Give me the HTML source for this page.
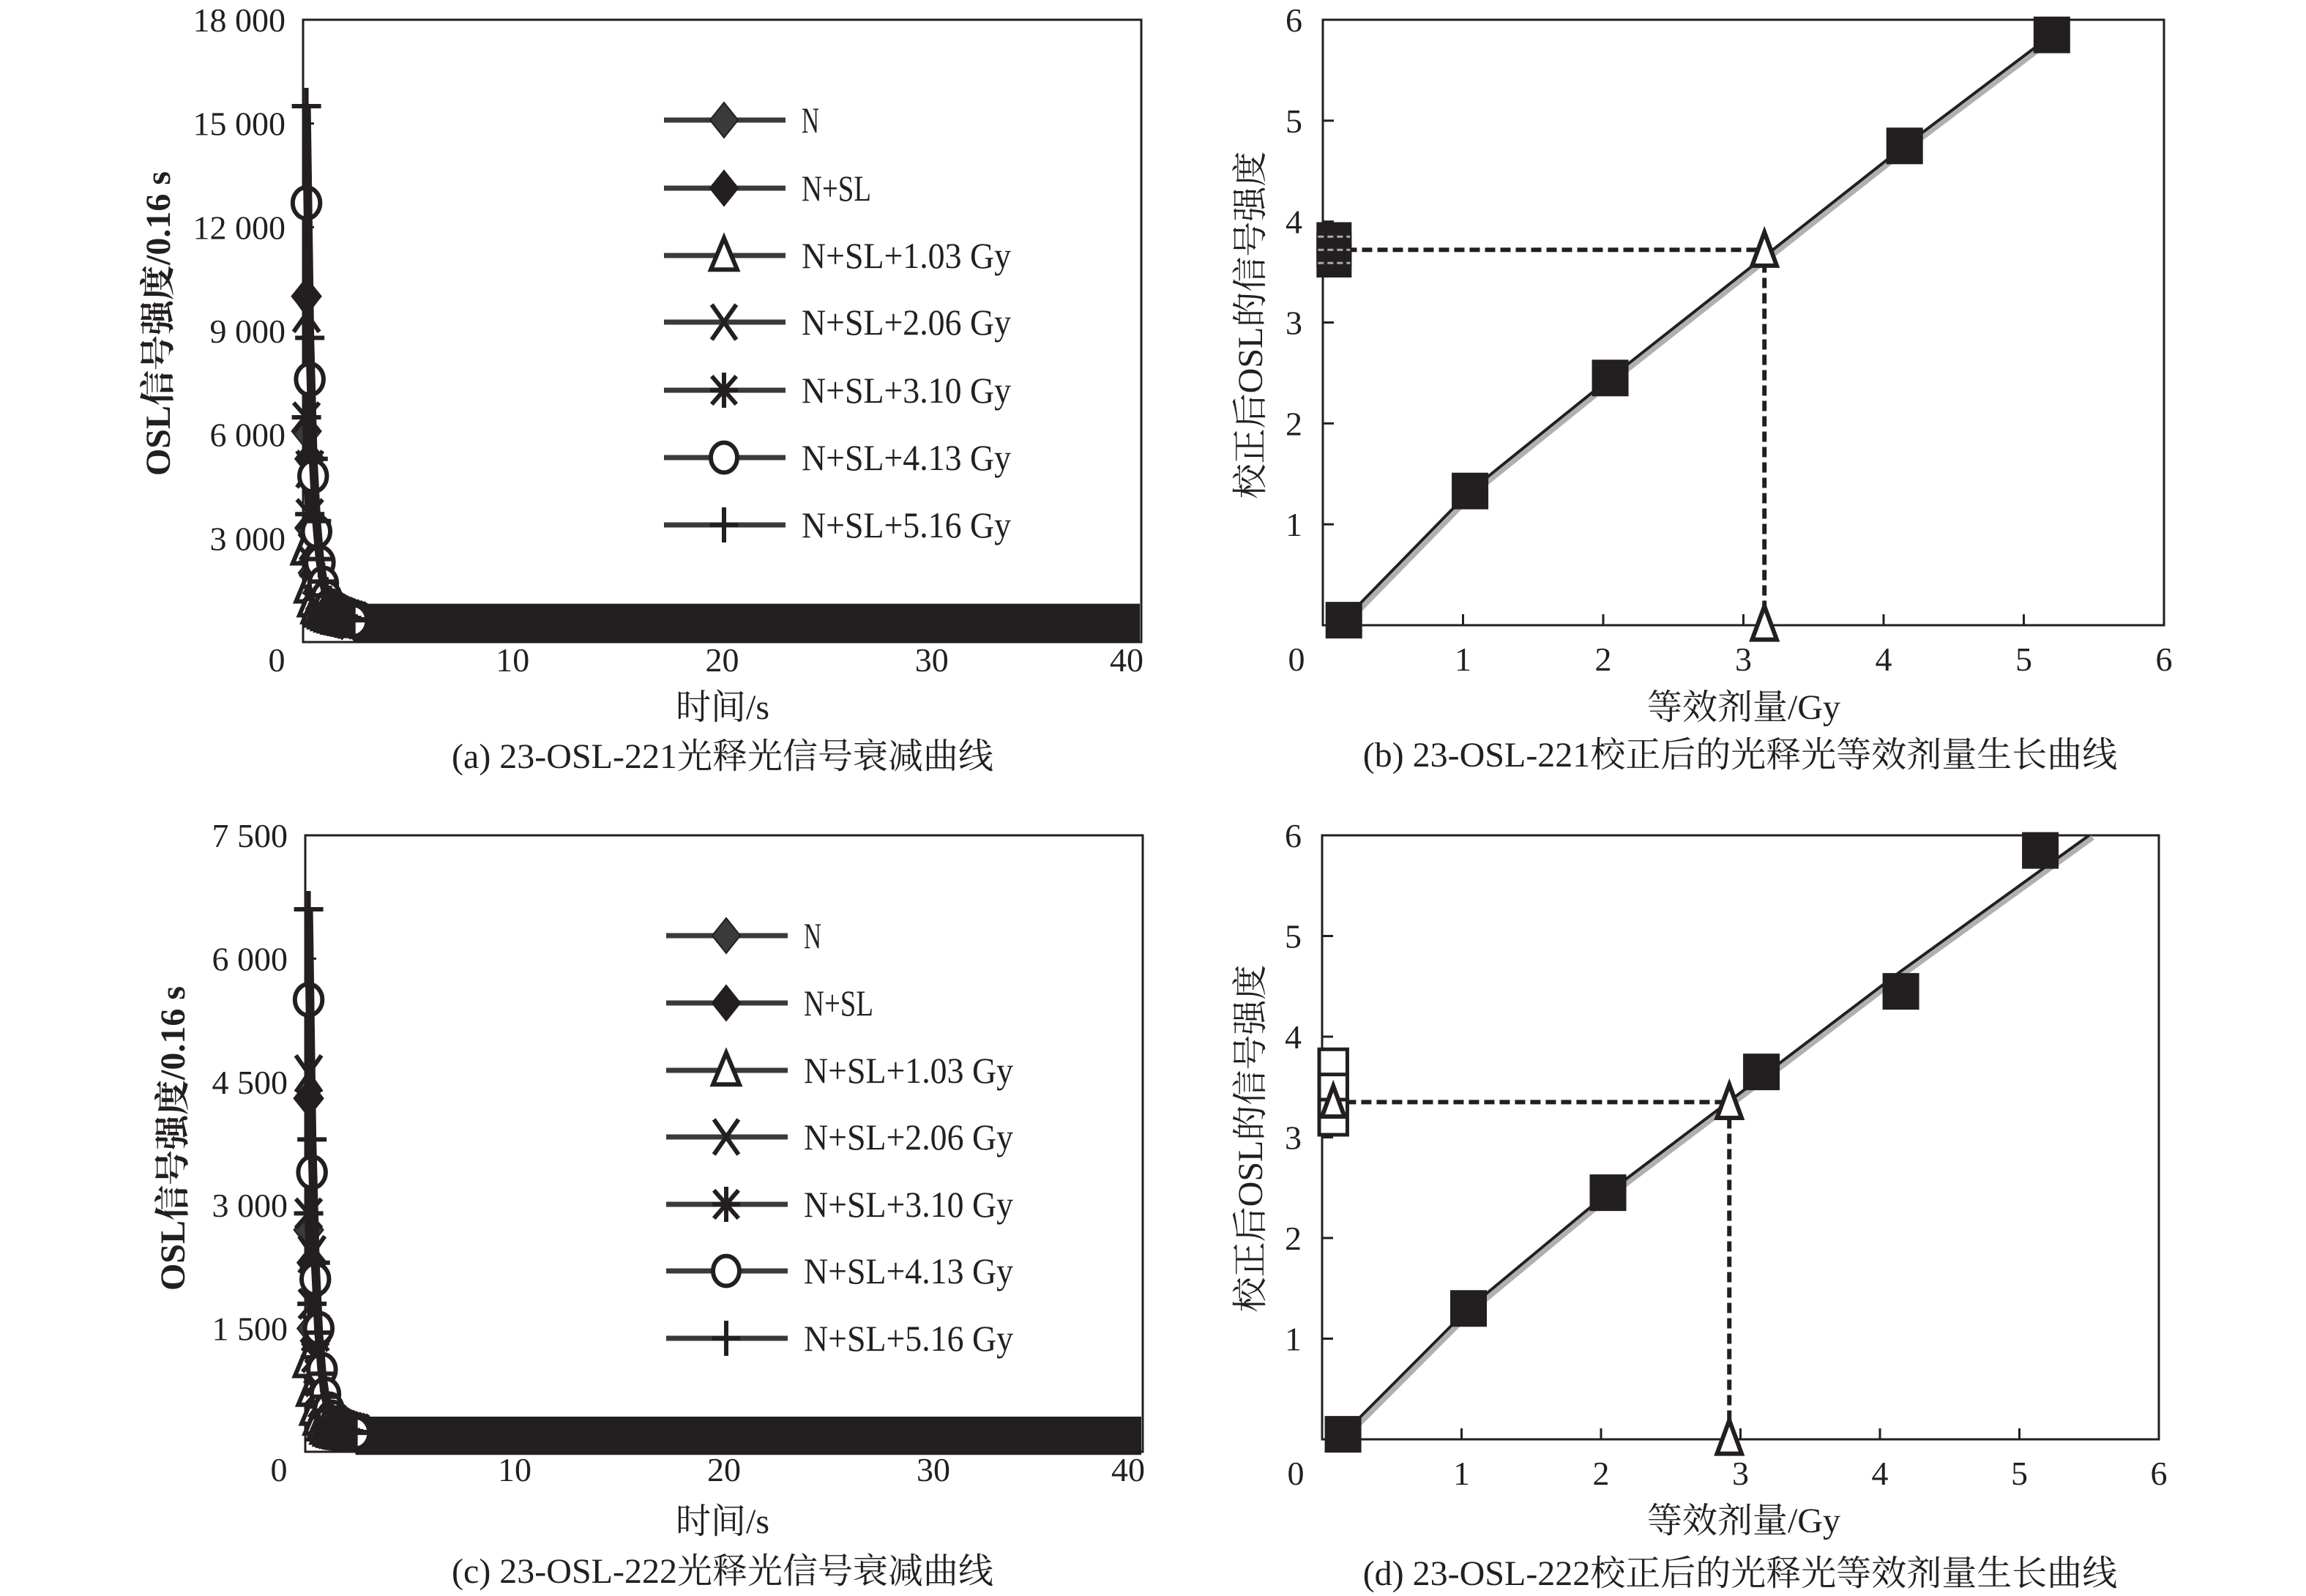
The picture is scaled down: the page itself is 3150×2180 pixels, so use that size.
<!DOCTYPE html>
<html><head><meta charset="utf-8"><style>
html,body{margin:0;padding:0;background:#fff}
svg{display:block}
text{font-family:"Liberation Serif","Noto Serif CJK SC",serif;fill:#231f20}
</style></head><body>
<svg id="fig" width="3150" height="2180" viewBox="0 0 3150 2180" xmlns="http://www.w3.org/2000/svg"></svg>
<script>
// ---------- Data: decay curves (panel a) ----------
const tEarly = [0.16,0.32,0.48,0.64,0.8,0.96,1.12,1.28,1.44,1.6,1.76,1.92,2.08,2.24,2.4];
const seriesNames = ["N","N+SL","N+SL+1.03 Gy","N+SL+2.06 Gy","N+SL+3.10 Gy","N+SL+4.13 Gy","N+SL+5.16 Gy"];
const seriesMarkers = ["diamondGrey","diamond","triangle","x","star","circle","plus"];
const aN    = [6100,3300,2000,1400,1150,1000,900,850,800,760,720,690,660,630,600];
const aNSL  = [10000,5300,3100,2000,1500,1200,1050,950,870,810,760,720,680,650,620];
const aD103 = [2700,1600,1200,1000,900,850,800,760,730,700,680,660,640,620,600];
const aD206 = [9500,5000,2900,1900,1450,1150,1000,900,840,790,750,710,680,650,620];
const aD310 = [6500,3700,2300,1600,1250,1050,950,870,810,770,730,700,670,640,610];
const aD413 = [12700,7600,4800,3200,2300,1700,1300,1050,920,840,780,730,690,650,620];
const aD516 = [15500,8800,5300,3500,2400,1750,1350,1100,950,860,790,740,700,660,630];
const aTail = [520,560,540,550,550,570,580];
const yTicksA = [0,3000,6000,9000,12000,15000,18000];
const yTickLabelsA = ["","3 000","6 000","9 000","12 000","15 000","18 000"];
// ---------- Data: decay curves (panel c) ----------
const cN    = [2700,1500,950,650,500,420,370,340,310,290,275,260,250,240,230];
const cNSL  = [4300,2300,1350,850,620,480,400,350,315,290,275,260,250,240,230];
const cD103 = [1100,750,520,400,330,290,265,250,240,230,225,220,215,210,205];
const cD206 = [4600,2400,1450,900,640,490,400,350,315,290,275,260,250,240,230];
const cD310 = [2900,1800,1150,750,550,440,380,340,305,285,270,258,248,238,230];
const cD413 = [5500,3400,2100,1500,1000,700,520,420,350,310,285,265,250,240,230];
const cD516 = [6600,3800,2300,1450,950,670,500,400,340,305,280,262,250,240,230];
const cTail = [190,200,185,200,200,205,205];
const yTicksC = [0,1500,3000,4500,6000,7500];
const yTickLabelsC = ["","1 500","3 000","4 500","6 000","7 500"];
const xTicksDecay = [0,10,20,30,40];
// ---------- Data: growth curves ----------
const doseB = [0.15,1.05,2.05,4.15,5.2];
const sigB  = [0.05,1.33,2.45,4.75,5.85];
const natAxisB = [3.62,3.72,3.82];
const deB = [3.15];
const lnB = [3.72];
const doseD = [0.15,1.05,2.05,3.15,4.15,5.15];
const sigD  = [0.05,1.3,2.45,3.65,4.45,5.85];
const fitDx = [0.15,1.05,2.05,3.15,4.15,5.5];
const fitDy = [0.05,1.3,2.45,3.6,4.65,6.0];
const natAxisD = [3.7,3.45,3.2];
const deD = [2.92];
const lnD = [3.35];
const growthTicks = [0,1,2,3,4,5,6];

const NS="http://www.w3.org/2000/svg";
const svg=document.getElementById('fig');
function el(tag,attrs,parent){const e=document.createElementNS(NS,tag);for(const k in attrs)e.setAttribute(k,attrs[k]);(parent||svg).appendChild(e);return e;}
function txt(str,x,y,size,anchor,parent){const t=el('text',{x:x,y:y,'font-size':size,'text-anchor':anchor||'middle'},parent);t.textContent=str;return t;}

function marker(g,type,x,y,r){
  const sw=6, c='#231f20';
  if(type==='diamond'||type==='diamondGrey'){
    el('polygon',{points:`${x},${y-r} ${x+r*0.8},${y} ${x},${y+r} ${x-r*0.8},${y}`,fill:type==='diamond'?c:'#3a3a3a',stroke:c,'stroke-width':2},g);
  }else if(type==='triangle'){
    el('polygon',{points:`${x},${y-r} ${x+r*0.75},${y+r*0.8} ${x-r*0.75},${y+r*0.8}`,fill:'#fff',stroke:c,'stroke-width':sw},g);
  }else if(type==='x'){
    el('path',{d:`M${x-r*0.7},${y-r} L${x+r*0.7},${y+r} M${x+r*0.7},${y-r} L${x-r*0.7},${y+r}`,stroke:c,'stroke-width':sw,fill:'none'},g);
  }else if(type==='star'){
    el('path',{d:`M${x-r*0.7},${y-r*0.8} L${x+r*0.7},${y+r*0.8} M${x+r*0.7},${y-r*0.8} L${x-r*0.7},${y+r*0.8} M${x},${y-r} L${x},${y+r} M${x-r*0.8},${y} L${x+r*0.8},${y}`,stroke:c,'stroke-width':sw,fill:'none'},g);
  }else if(type==='circle'){
    el('ellipse',{cx:x,cy:y,rx:r*0.75,ry:r*0.85,fill:'#fff',stroke:c,'stroke-width':sw},g);
  }else if(type==='plus'){
    el('path',{d:`M${x},${y-r} L${x},${y+r} M${x-r*0.8},${y} L${x+r*0.8},${y}`,stroke:c,'stroke-width':sw,fill:'none'},g);
  }else if(type==='square'){
    el('rect',{x:x-r,y:y-r,width:2*r,height:2*r,fill:c},g);
  }else if(type==='squareOpen'){
    el('rect',{x:x-r*0.8,y:y-r,width:1.6*r,height:2*r,fill:'#fff',stroke:c,'stroke-width':5},g);
  }else if(type==='triOpen'){
    el('polygon',{points:`${x},${y-r} ${x+r*0.7},${y+r*0.9} ${x-r*0.7},${y+r*0.9}`,fill:'#fff',stroke:c,'stroke-width':6},g);
  }
}

function frame(g,P){
  el('rect',{x:P.x0,y:P.y0,width:P.x1-P.x0,height:P.y1-P.y0,fill:'none',stroke:'#231f20','stroke-width':3},g);
}

function decayPanel(P,series,tails,yTicks,yLabels,name,caption,legendY,legendX){
  const g=el('g',{});  
  const sx=v=>P.x0+(v/40)*(P.x1-P.x0);
  const sy=v=>P.y1-(v/P.ymax)*(P.y1-P.y0);
  frame(g,P);
  yTicks.forEach((v,i)=>{
    if(v>0&&v<P.ymax) el('line',{x1:P.x0,x2:P.x0+15,y1:sy(v),y2:sy(v),stroke:'#231f20','stroke-width':3},g);
    if(yLabels[i]){const t=txt(yLabels[i],P.x0-24,sy(v)+16,46,'end',g);}
  });
  xTicksDecay.forEach(v=>{
    const t=txt(String(v),v===0?P.x0-36:sx(v)-(v===40?20:0),P.y1+40,46,'middle',g);
    
  });
  series.forEach((s,i)=>{
    const last=tEarly.length-1;
    const b=el('line',{x1:sx(tEarly[last]),x2:P.x1-2,y1:sy(tails[i]),y2:sy(tails[i]),stroke:'#231f20','stroke-width':50},g);
    
  });
  series.forEach((s,i)=>{
    const sg=el('g',{},g);
    
    
    const pts=s.map((v,k)=>`${sx(tEarly[k])},${sy(v)}`).join(' ');
    el('polyline',{points:pts,fill:'none',stroke:'#231f20','stroke-width':12},sg);
    s.forEach((v,k)=>marker(sg,seriesMarkers[i],sx(tEarly[k]),sy(v),25));
  });
  const lg=el('g',{},g);
  
  
  seriesNames.forEach((n,i)=>{
    const y=legendY[i];
    const e=el('g',{},lg);
    
    
    el('line',{x1:legendX,x2:legendX+166,y1:y,y2:y,stroke:'#3a3a3a','stroke-width':7},e);
    marker(e,seriesMarkers[i],legendX+82,y,24);
    const t=txt(n,legendX+188,y+17,50,'start',e);
    t.setAttribute('textLength',Math.round(n.length*23.8));
    t.setAttribute('lengthAdjust','spacingAndGlyphs');
  });
  const xt=txt('时间/s',P.tx,P.ty,48,'middle',g);
  const yt=txt('OSL信号强度/0.16 s',0,0,48,'middle',g);
  yt.setAttribute('transform',`translate(${P.yx},${P.yy}) rotate(-90)`);yt.setAttribute('font-weight','bold');
  
  const cp=txt(caption,P.tx,P.cy,48,'middle',g);
}

function growthPanel(P,dose,sig,fitX,fitY,natY,natType,de,ln,name,caption){
  const g=el('g',{});  
  const sx=v=>P.x0+(v/6)*(P.x1-P.x0);
  const sy=v=>P.y1-(v/6)*(P.y1-P.y0);
  frame(g,P);
  growthTicks.forEach(v=>{
    if(v>0&&v<6){
      el('line',{x1:sx(v),x2:sx(v),y1:P.y1,y2:P.y1-15,stroke:'#231f20','stroke-width':3},g);
      el('line',{x1:P.x0,x2:P.x0+15,y1:sy(v),y2:sy(v),stroke:'#231f20','stroke-width':3},g);
    }
    const tx=txt(String(v),v===0?P.x0-36:sx(v),P.y1+62,46,'middle',g);
    if(v>0){const ty=txt(String(v),P.x0-28,sy(v)+16,46,'end',g);}
  });
  const fx=fitX||dose, fy=fitY||sig;
  const pts=fx.map((v,k)=>`${sx(v)},${sy(fy[k])}`).join(' ');
  const pts2=fx.map((v,k)=>`${sx(v)+5},${sy(fy[k])+3}`).join(' ');
  const f1=el('polyline',{points:pts2,fill:'none',stroke:'#b0b0b0','stroke-width':7},g);
  
  const f2=el('polyline',{points:pts,fill:'none',stroke:'#231f20','stroke-width':4},g);
  
  const dl=el('path',{d:`M${sx(0.06)},${sy(ln[0])} L${sx(de[0])},${sy(ln[0])} L${sx(de[0])},${sy(0)}`,fill:'none',stroke:'#231f20','stroke-width':6,'stroke-dasharray':'14 7'},g);
  
  dose.forEach((d,k)=>{
    const m=el('g',{},g);
    
    
    marker(m,'square',sx(d),sy(sig[k]),25);
  });
  natY.forEach(v=>{
    const m=el('g',{},g);
    
    
    marker(m,natType,sx(0.08),sy(v),24);
  });
  if(natType==='square'){el('path',{d:`M${sx(0.08)-22},${sy(ln[0])-18} h44 M${sx(0.08)-22},${sy(ln[0])+18} h44 M${sx(0.08)-22},${sy(ln[0])} h44`,stroke:'#aaa','stroke-width':3,'stroke-dasharray':'8 5'},g);}
  else {marker(g,'triOpen',sx(0.08),sy(ln[0]),22);}
  const t1=el('g',{},g);
  marker(t1,'triOpen',sx(de[0]),sy(ln[0]),24);
  const t2=el('g',{},g);
  marker(t2,'triOpen',sx(de[0]),sy(0)-2,24);
  const xt=txt('等效剂量/Gy',P.tx,P.ty,48,'middle',g);
  const yt=txt('校正后OSL的信号强度',0,0,48,'middle',g);
  yt.setAttribute('transform',`translate(${P.yx},${P.yy}) rotate(-90)`);
  
  const cp=txt(caption,P.cx,P.cy,48,'middle',g);
}

decayPanel({x0:414,x1:1559,y0:27,y1:877,ymax:18000,tx:987,ty:982,cy:1049,yx:232,yy:442},
  [aN,aNSL,aD103,aD206,aD310,aD413,aD516],aTail,yTicksA,yTickLabelsA,'panel-a-decay','(a) 23-OSL-221光释光信号衰减曲线',
  [164,257,349,440,533,625,717],907);
growthPanel({x0:1807,x1:2956,y0:27,y1:854,tx:2382,ty:982,cx:2377,cy:1047,yx:1724,yy:444},
  doseB,sigB,null,null,natAxisB,'square',deB,lnB,'panel-b-growth','(b) 23-OSL-221校正后的光释光等效剂量生长曲线');
decayPanel({x0:417,x1:1561,y0:1141,y1:1983,ymax:7500,tx:987,ty:2094,cy:2162,yx:252,yy:1555},
  [cN,cNSL,cD103,cD206,cD310,cD413,cD516],cTail,yTicksC,yTickLabelsC,'panel-c-decay','(c) 23-OSL-222光释光信号衰减曲线',
  [1278,1370,1462,1553,1645,1736,1828],910);
growthPanel({x0:1806,x1:2949,y0:1141,y1:1966,tx:2382,ty:2093,cx:2377,cy:2165,yx:1724,yy:1555},
  doseD,sigD,fitDx,fitDy,natAxisD,'squareOpen',deD,lnD,'panel-d-growth','(d) 23-OSL-222校正后的光释光等效剂量生长曲线');
</script>
</body></html>
